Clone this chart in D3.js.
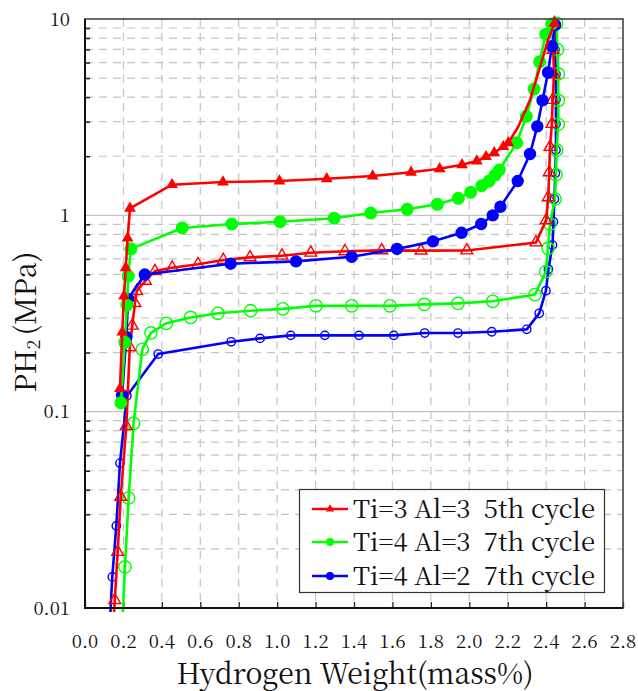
<!DOCTYPE html>
<html><head><meta charset="utf-8">
<script src="https://cdn.jsdelivr.net/npm/d3@7"></script>
<style>body{margin:0;background:#fff}svg{display:block}</style>
</head><body>
<svg id="c" width="638" height="691"></svg>
<script>
// ---- data ----
const xTicks = [0.0,0.2,0.4,0.6,0.8,1.0,1.2,1.4,1.6,1.8,2.0,2.2,2.4,2.6,2.8];
const yTicks = [10,1,0.1,0.01];
const yTickLabels = ["10","1","0.1","0.01"];

const redAbsX = [0.182,0.194,0.203,0.212,0.222,0.234,0.453,0.718,1.012,1.258,1.497,1.697,1.846,1.962,2.039,2.087,2.130,2.177,2.203,2.254,2.316,2.368,2.410,2.443];
const redAbsY = [0.131,0.254,0.388,0.540,0.765,1.086,1.432,1.478,1.495,1.536,1.586,1.656,1.727,1.808,1.890,1.989,2.084,2.236,2.343,2.818,3.87,5.69,7.82,9.51];
const redAbsMarked = [1,1,1,1,1,1,1,1,1,1,1,1,1,1,1,1,1,1,1,0,0,0,0,1];

const redDesX = [2.443,2.437,2.441,2.434,2.430,2.420,2.416,2.411,2.400,2.347,1.987,1.749,1.544,1.353,1.175,1.025,0.859,0.720,0.588,0.454,0.364,0.314,0.269,0.260,0.246,0.233,0.215,0.186,0.170,0.155,0.146];
const redDesY = [9.51,6.95,5.22,3.87,2.92,2.228,1.656,1.235,0.943,0.727,0.662,0.661,0.663,0.656,0.645,0.623,0.611,0.592,0.563,0.541,0.520,0.464,0.411,0.357,0.274,0.2127,0.0845,0.0368,0.0193,0.01097,0.0079];
const redDesMarked = [1,1,1,1,1,1,1,1,1,1,1,1,1,1,1,1,1,1,1,1,1,1,1,1,1,1,1,1,1,1,0];

const greenAbsX = [0.187,0.207,0.218,0.225,0.239,0.506,0.764,1.015,1.297,1.487,1.677,1.834,1.943,2.007,2.065,2.103,2.134,2.156,2.247,2.297,2.337,2.366,2.398,2.429];
const greenAbsY = [0.111,0.2255,0.349,0.490,0.675,0.862,0.903,0.928,0.966,1.027,1.073,1.138,1.221,1.31,1.415,1.495,1.604,1.701,2.343,3.193,4.40,6.05,8.37,9.43];

const greenDesX = [2.454,2.459,2.463,2.463,2.463,2.455,2.451,2.446,2.420,2.410,2.398,2.342,2.122,1.941,1.766,1.587,1.388,1.202,1.030,0.862,0.692,0.550,0.423,0.343,0.298,0.253,0.227,0.208,0.195];
const greenDesY = [9.49,6.99,5.25,3.85,2.91,2.151,1.610,1.211,0.903,0.679,0.516,0.395,0.365,0.356,0.352,0.346,0.346,0.346,0.334,0.3266,0.317,0.302,0.282,0.252,0.2078,0.0872,0.0364,0.0162,0.0087];
const greenDesMarked = [1,1,1,1,1,1,1,1,1,1,1,1,1,1,1,1,1,1,1,1,1,1,1,1,1,1,1,1,0];

const blueAbsX = [0.193,0.215,0.224,0.311,0.758,1.098,1.388,1.624,1.811,1.960,2.062,2.122,2.162,2.252,2.316,2.354,2.381,2.410,2.430,2.446];
const blueAbsY = [0.1215,0.240,0.375,0.4995,0.567,0.583,0.615,0.674,0.737,0.815,0.903,1.0,1.106,1.495,2.053,2.84,3.85,5.34,7.27,9.32];

const blueDesX = [2.450,2.446,2.451,2.451,2.451,2.451,2.448,2.443,2.438,2.433,2.412,2.399,2.364,2.299,2.117,1.941,1.768,1.607,1.426,1.248,1.071,0.911,0.761,0.381,0.218,0.182,0.163,0.142,0.130];
const blueDesY = [9.32,6.99,5.23,3.89,2.92,2.151,1.637,1.211,0.928,0.706,0.531,0.413,0.317,0.2626,0.2553,0.2515,0.2515,0.2447,0.2447,0.2447,0.2447,0.2362,0.227,0.1965,0.1203,0.0547,0.0262,0.0144,0.0087];
const blueDesMarked = [1,1,1,1,1,1,1,1,1,1,1,1,1,1,1,1,1,1,1,1,1,1,1,1,1,1,1,1,0];

const legendLabels = ["Ti=3 Al=3  5th cycle","Ti=4 Al=3  7th cycle","Ti=4 Al=2  7th cycle"];
const colors = ["#ff0000","#00ff00","#0000ff"];

// ---- layout ----
const L = 85, R = 623, T = 19, B = 608;
const FONT = "'Noto Serif CJK JP'";
const svg = d3.select("#c");
const x = d3.scaleLinear().domain([0,2.8]).range([L,R]);
const y = d3.scaleLog().domain([0.01,10]).range([B,T]);

// grid
const minor = [];
for (let e=-2;e<1;e++) for (let m=2;m<=9;m++) minor.push(m*Math.pow(10,e));
const g = svg.append("g");
g.selectAll(".hm").data(minor).join("line")
  .attr("x1",L).attr("x2",R).attr("y1",d=>y(d)).attr("y2",d=>y(d))
  .attr("stroke","#c4c4c4").attr("stroke-width",1.2).attr("stroke-dasharray","8,6");
g.selectAll(".hM").data([1,0.1]).join("line")
  .attr("x1",L).attr("x2",R).attr("y1",d=>y(d)).attr("y2",d=>y(d))
  .attr("stroke","#c4c4c4").attr("stroke-width",1.2);
g.selectAll(".v").data(xTicks.slice(1,-1)).join("line")
  .attr("x1",d=>x(d)).attr("x2",d=>x(d)).attr("y1",T).attr("y2",B)
  .attr("stroke","#c4c4c4").attr("stroke-width",1.2).attr("stroke-dasharray","8,6");

// axes with inward ticks
const yAxis = d3.axisRight(y).tickValues(minor).tickSize(5).tickFormat("");
svg.append("g").attr("transform",`translate(${L},0)`).call(yAxis)
  .call(s=>{s.select(".domain").remove(); s.selectAll("line").attr("stroke","#222").attr("stroke-width",1.5);});
const xAxis = d3.axisTop(x).tickValues(xTicks).tickSize(6).tickFormat("");
svg.append("g").attr("transform",`translate(0,${B})`).call(xAxis)
  .call(s=>{s.select(".domain").remove(); s.selectAll("line").attr("stroke","#222").attr("stroke-width",1.3);});

// tick labels
svg.append("g").selectAll("text").data(xTicks).join("text")
  .attr("x",d=>x(d)).attr("y",648).attr("text-anchor","middle")
  .attr("font-family",FONT).attr("font-size",18.5).attr("fill","#111")
  .text(d=>d.toFixed(1));
svg.append("g").selectAll("text").data(yTicks).join("text")
  .attr("x",70).attr("y",d=>y(d)+6.5).attr("text-anchor","end")
  .attr("font-family",FONT).attr("font-size",18.5).attr("fill","#111")
  .text((d,i)=>yTickLabels[i]);

// titles
svg.append("text").attr("x",355).attr("y",684).attr("text-anchor","middle")
  .attr("font-family",FONT).attr("font-size",29).attr("fill","#111")
  .attr("textLength",357).attr("lengthAdjust","spacingAndGlyphs")
  .text("Hydrogen Weight(mass%)");
const yt = svg.append("text").attr("transform","translate(36,322) rotate(-90)")
  .attr("text-anchor","middle").attr("font-family",FONT).attr("font-size",29).attr("fill","#111");
yt.append("tspan").text("PH");
yt.append("tspan").attr("font-size",18).attr("dy",4).text("2");
yt.append("tspan").attr("dy",-4).attr("dx",4).text("(MPa)");

// clip
svg.append("clipPath").attr("id","clip").append("rect")
  .attr("x",L).attr("y",T-8).attr("width",R-L+8).attr("height",B-T+12);
const plot = svg.append("g").attr("clip-path","url(#clip)");

const line = d3.line().x(d=>x(d[0])).y(d=>y(d[1]));

function series(xs, ys, marked, color, kind, filled, size){
  const pts = xs.map((v,i)=>[v, ys[i], marked ? marked[i] : 1]);
  plot.append("path").datum(pts).attr("d",line)
    .attr("fill","none").attr("stroke",color).attr("stroke-width",2.6).attr("stroke-linejoin","round");
  const mk = plot.append("g").selectAll("path").data(pts.filter(p=>p[2])).join("path")
    .attr("transform",p=>`translate(${x(p[0])},${y(p[1])})`)
    .attr("fill",filled?color:"none").attr("stroke",color).attr("stroke-width",1.4);
  if (kind==="tri") mk.attr("d", d3.symbol().type(d3.symbolTriangle).size(size)());
  else mk.attr("d", d3.symbol().type(d3.symbolCircle).size(size)());
}

series(blueDesX, blueDesY, blueDesMarked, colors[2], "circ", false, 55);
series(greenDesX, greenDesY, greenDesMarked, colors[1], "circ", false, 120);
series(redDesX, redDesY, redDesMarked, colors[0], "tri", false, 60);
series(blueAbsX, blueAbsY, null, colors[2], "circ", true, 95);
series(greenAbsX, greenAbsY, null, colors[1], "circ", true, 105);
series(redAbsX, redAbsY, redAbsMarked, colors[0], "tri", true, 38);

// frame
svg.append("rect").attr("x",L).attr("y",T).attr("width",R-L).attr("height",B-T)
  .attr("fill","none").attr("stroke","#444").attr("stroke-width",1.6);
svg.append("path").attr("d",`M${L},${T}V${B}H${R}`).attr("fill","none").attr("stroke","#111").attr("stroke-width",2);

// legend
const lg = svg.append("g");
lg.append("rect").attr("x",299.5).attr("y",489.5).attr("width",305).attr("height",103)
  .attr("fill","#fff").attr("stroke","#333").attr("stroke-width",1.2);
const rows = [509,542,576];
legendLabels.forEach((t,i)=>{
  lg.append("line").attr("x1",312).attr("x2",348).attr("y1",rows[i]).attr("y2",rows[i])
    .attr("stroke",colors[i]).attr("stroke-width",2.6);
  lg.append("path").attr("transform",`translate(330,${rows[i]})`)
    .attr("d", d3.symbol().type(i===0?d3.symbolTriangle:d3.symbolCircle).size(i===0?30:50)())
    .attr("fill",colors[i]);
  lg.append("text").attr("x",353).attr("y",rows[i]+8.5).attr("font-family",FONT)
    .attr("font-size",25).attr("fill","#111").style("white-space","pre")
    .attr("textLength",242).attr("lengthAdjust","spacingAndGlyphs").text(t);
});
</script>
</body></html>
